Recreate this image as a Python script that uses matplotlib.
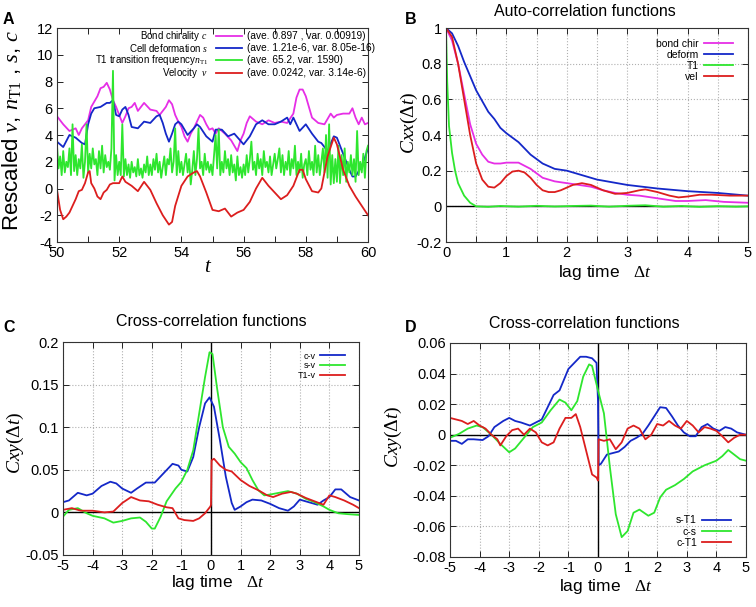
import numpy as np
import matplotlib
matplotlib.use("Agg")
import matplotlib.pyplot as plt
from matplotlib.ticker import MultipleLocator, FuncFormatter
from matplotlib.lines import Line2D

plt.rcParams['font.family'] = ['Liberation Sans', 'DejaVu Sans']
plt.rcParams['mathtext.fontset'] = 'custom'
plt.rcParams['mathtext.it'] = 'Liberation Serif:italic'
plt.rcParams['mathtext.rm'] = 'Liberation Serif'
plt.rcParams['mathtext.bf'] = 'Liberation Serif:bold'
plt.rcParams['axes.unicode_minus'] = False

# ---------------- Panel A data ----------------
tA_c = [50.0, 50.2, 50.4, 50.6, 50.7, 50.8, 51.0, 51.1, 51.2, 51.3, 51.4, 51.5, 51.6, 51.7, 51.8, 51.9,
        52.0, 52.1, 52.2, 52.3, 52.4, 52.5, 52.6, 52.7, 52.8, 53.0, 53.2, 53.3, 53.5, 53.6, 53.7, 53.8,
        53.9, 54.0, 54.1, 54.2, 54.3, 54.4, 54.5, 54.6, 54.7, 54.8, 54.9, 55.0, 55.1, 55.2, 55.4, 55.6,
        55.8, 55.9, 56.0, 56.1, 56.2, 56.4, 56.6, 56.8, 57.0, 57.2, 57.4, 57.6, 57.7, 57.8, 57.9, 58.0,
        58.1, 58.2, 58.4, 58.6, 58.8, 58.9, 59.0, 59.2, 59.4, 59.5, 59.6, 59.7, 59.8, 59.9, 60.0]
c_vals = [5.4, 4.8, 4.3, 4.5, 4.0, 4.5, 5.1, 6.1, 6.5, 6.9, 7.5, 7.6, 7.9, 7.4, 6.6, 6.1,
          5.5, 4.9, 5.4, 6.0, 6.1, 6.4, 5.8, 6.1, 6.4, 5.9, 5.8, 5.5, 6.1, 6.6, 6.3, 5.5,
          5.0, 4.6, 3.9, 3.5, 4.1, 4.5, 5.0, 5.5, 5.3, 4.8, 4.4, 4.5, 4.1, 4.5, 4.1, 3.6,
          2.8, 3.6, 4.1, 4.9, 5.4, 5.0, 4.8, 5.1, 4.9, 5.0, 4.9, 5.6, 6.8, 7.4, 7.4, 6.9,
          6.1, 5.3, 4.9, 4.8, 5.6, 5.3, 5.5, 5.6, 5.6, 6.0, 5.3, 4.8, 5.3, 4.8, 4.9]

tA_s = [50.0, 50.2, 50.4, 50.6, 50.8, 50.9, 51.0, 51.1, 51.2, 51.4, 51.6, 51.7, 51.8, 51.9, 52.0, 52.1,
        52.2, 52.3, 52.4, 52.6, 52.8, 53.0, 53.2, 53.3, 53.4, 53.5, 53.6, 53.7, 53.8, 53.9, 54.0, 54.2,
        54.4, 54.5, 54.6, 54.8, 55.0, 55.1, 55.3, 55.5, 55.7, 56.0, 56.2, 56.4, 56.6, 56.8, 57.0, 57.2,
        57.4, 57.5, 57.6, 57.7, 57.8, 58.0, 58.2, 58.4, 58.5, 58.7, 58.9, 59.0, 59.2, 59.4, 59.5, 59.6,
        59.8, 59.9, 60.0]
s_vals = [3.5, 3.1, 4.0, 3.8, 3.4, 3.3, 4.8, 5.6, 6.0, 6.1, 6.4, 6.4, 6.6, 5.5, 5.4, 5.9,
          6.1, 5.5, 4.6, 4.5, 5.0, 4.9, 5.4, 5.5, 4.9, 4.1, 3.5, 4.1, 4.8, 5.0, 4.8, 4.0,
          4.5, 4.8, 4.6, 3.9, 3.5, 4.4, 4.4, 3.9, 4.1, 3.3, 3.9, 4.8, 5.1, 4.8, 4.8, 5.0,
          5.3, 4.8, 5.3, 4.8, 4.3, 4.8, 4.1, 3.5, 3.4, 2.8, 3.9, 3.8, 2.6, 1.4, 0.9, 0.9,
          1.7, 2.3, 3.0]

tA_v = [50.0, 50.1, 50.2, 50.3, 50.4, 50.5, 50.6, 50.7, 50.8, 50.9, 51.0, 51.05, 51.1, 51.2, 51.3, 51.4,
        51.5, 51.6, 51.7, 51.8, 52.0, 52.1, 52.2, 52.4, 52.6, 52.8, 53.0, 53.2, 53.4, 53.6, 53.7, 53.8,
        54.0, 54.2, 54.4, 54.5, 54.6, 54.8, 55.0, 55.2, 55.4, 55.6, 55.8, 56.0, 56.2, 56.4, 56.6, 56.8,
        57.0, 57.2, 57.4, 57.6, 57.8, 57.9, 58.0, 58.2, 58.4, 58.5, 58.7, 58.9, 59.0, 59.2, 59.4, 59.6,
        59.8, 60.0]
v_vals = [-0.1, -1.6, -2.3, -2.1, -1.8, -1.3, -0.8, -0.2, -0.1, 0.4, 1.2, 1.3, 0.4, 0.0, -0.6, -0.8,
          -0.3, -0.1, 0.3, 0.4, 0.4, 0.9, 0.5, 0.2, -0.2, 0.5, -0.1, -1.1, -2.0, -2.7, -2.5, -1.3,
          0.2, 0.9, 1.2, 1.3, 0.9, -0.3, -1.6, -1.7, -1.5, -2.1, -1.8, -1.6, -1.0, 0.0, 0.8, 0.2,
          -0.3, -0.8, -0.5, 0.2, 1.4, 1.4, 0.7, -0.2, -0.3, 0.0, 2.4, 3.8, 3.3, 1.4, 0.2, -0.6,
          -1.3, -2.0]

n_vals = [3.2, 1.5, 2.4, 1.0, 2.8, 1.2, 2.0, 1.6, 3.0, 1.0, 4.8, 1.3, 2.5, 1.0, 2.2, 1.5, 3.3, 0.8, 2.0, 4.8,
          1.2, 2.6, 1.5, 3.0, 1.8, 2.2, 1.0, 2.8, 1.5, 3.2, 1.2, 2.5, 1.6, 2.0, 1.4, 3.0, 8.8, 0.6, 2.5, 1.0,
          2.0, 1.0, 4.8, 0.9, 2.2, 1.0, 1.8, 0.8, 2.0, 1.2, 1.6, 0.9, 2.2, 1.0, 1.5, 0.8, 1.8, 1.2, 2.4, 1.0,
          1.8, 1.0, 2.2, 1.4, 2.6, 1.2, 2.0, 0.8, 1.6, 2.4, 1.0, 2.2, 1.8, 3.0, 1.2, 2.0, 4.5, 1.0, 2.8, 1.2,
          2.0, 1.0, 1.8, 2.6, 1.2, 2.2, 0.3, 1.4, 2.8, 1.0, 2.2, 4.5, 1.5, 2.0, 1.0, 2.6, 1.4, 2.0, 1.2, 1.8,
          1.0, 2.5, 4.0, 1.5, 4.4, 1.0, 2.0, 1.2, 2.8, 1.5, 2.2, 1.0, 2.5, 1.2, 1.8, 0.6, 2.4, 1.0, 1.6, 0.8,
          1.8, 1.0, 2.5, 1.2, 2.2, 3.5, 1.4, 2.0, 1.0, 2.6, 1.5, 2.2, 1.0, 2.8, 1.6, 2.0, 1.2, 2.4, 1.0, 1.8,
          2.6, 1.5, 2.2, 3.0, 1.2, 2.5, 1.0, 2.0, 1.4, 2.8, 1.0, 2.2, 1.5, 3.2, 1.0, 2.0, 1.2, 2.6, 0.8, 1.8,
          2.2, 1.0, 2.8, 1.4, 2.0, 1.0, 3.2, 1.2, 2.5, 1.0, 2.0, 3.0, 1.2, 4.0, 0.8, 4.8, 0.3, 2.5, 0.4, 2.2,
          0.5, 3.2, 0.4, 2.5, 1.0, 3.0, 0.5, 2.0, 1.2, 2.5, 1.0, 2.2, 0.5, 4.3, 1.0, 2.0, 1.2, 2.6, 0.8, 2.8,
          3.2]
tA_n = np.linspace(50, 60, len(n_vals))

labelsA = ['Bond chirality $c$', 'Cell deformation $s$',
           r'T1 transition frequency$n_{\mathrm{T1}}$', r'Velocity  $v$']
statsA = ['(ave. 0.897 , var. 0.00919)', '(ave. 1.21e-6, var. 8.05e-16)',
          '(ave. 65.2, var. 1590)', '(ave. 0.0242, var. 3.14e-6)']

# ---------------- Panel B data ----------------
lagB_bond = [0, 0.1, 0.2, 0.3, 0.4, 0.5, 0.6, 0.7, 0.8, 0.9, 1.0, 1.2, 1.4, 1.6, 1.8, 2.0, 2.2, 2.4,
             2.6, 2.8, 3.0, 3.2, 3.4, 3.6, 3.8, 4.0, 4.3, 4.6, 5.0]
bond_acf = [1.0, 0.93, 0.80, 0.63, 0.46, 0.35, 0.29, 0.25, 0.24, 0.24, 0.245, 0.245, 0.21, 0.16, 0.14,
            0.13, 0.12, 0.11, 0.09, 0.075, 0.065, 0.06, 0.05, 0.04, 0.03, 0.03, 0.035, 0.025, 0.02]
lagB_def = [0, 0.1, 0.2, 0.3, 0.4, 0.5, 0.6, 0.7, 0.8, 0.9, 1.0, 1.2, 1.4, 1.6, 1.8, 2.0, 2.2, 2.5,
            3.0, 3.5, 4.0, 4.5, 5.0]
def_acf = [1.0, 0.97, 0.90, 0.81, 0.73, 0.65, 0.59, 0.53, 0.49, 0.44, 0.41, 0.36, 0.29, 0.24, 0.21,
           0.20, 0.18, 0.15, 0.12, 0.10, 0.085, 0.075, 0.06]
lagB_t1 = [0, 0.02, 0.05, 0.1, 0.15, 0.2, 0.3, 0.4, 0.5, 0.7, 0.9, 1.2, 1.5, 1.8, 2.1, 2.4, 2.7, 3.0,
           3.3, 3.6, 3.9, 4.2, 4.5, 4.8, 5.0]
t1_acf = [1.0, 0.7, 0.45, 0.3, 0.2, 0.13, 0.06, 0.02, 0.0, -0.003, 0.002, -0.002, 0.003, -0.001, 0.002,
          0.004, -0.002, 0.003, 0.006, -0.002, 0.002, -0.003, 0.001, -0.002, 0.0]
lagB_vel = [0, 0.1, 0.2, 0.3, 0.4, 0.5, 0.6, 0.7, 0.8, 0.9, 1.0, 1.1, 1.2, 1.3, 1.4, 1.5, 1.6, 1.7,
            1.8, 1.9, 2.0, 2.1, 2.25, 2.4, 2.6, 2.8, 3.0, 3.2, 3.3, 3.5, 3.7, 3.85, 4.0, 4.2, 4.4, 4.7, 5.0]
vel_acf = [1.0, 0.95, 0.80, 0.60, 0.40, 0.24, 0.15, 0.11, 0.105, 0.13, 0.17, 0.195, 0.20, 0.19, 0.16,
           0.12, 0.09, 0.08, 0.08, 0.09, 0.105, 0.12, 0.13, 0.12, 0.09, 0.07, 0.075, 0.09, 0.095, 0.08,
           0.06, 0.05, 0.055, 0.065, 0.065, 0.06, 0.06]

# ---------------- Panel C data ----------------
lagC_cv = [-5, -4.8, -4.5, -4.2, -4.0, -3.7, -3.4, -3.2, -3.0, -2.7, -2.5, -2.2, -1.9, -1.6, -1.3, -1.1,
           -1.0, -0.8, -0.6, -0.4, -0.2, -0.05, 0.1, 0.3, 0.5, 0.7, 0.8, 1.0, 1.2, 1.4, 1.7, 2.0, 2.3,
           2.6, 2.8, 3.0, 3.3, 3.6, 3.8, 4.0, 4.2, 4.4, 4.7, 5.0]
cv = [0.012, 0.014, 0.023, 0.020, 0.022, 0.031, 0.036, 0.034, 0.028, 0.023, 0.028, 0.035, 0.035, 0.046,
      0.057, 0.055, 0.050, 0.048, 0.065, 0.100, 0.128, 0.135, 0.124, 0.085, 0.042, 0.011, 0.003, 0.007,
      0.012, 0.015, 0.014, 0.010, 0.005, 0.002, 0.007, 0.015, 0.012, 0.009, 0.014, 0.018, 0.027, 0.027,
      0.018, 0.014]
lagC_sv = [-5, -4.8, -4.5, -4.2, -4.0, -3.6, -3.3, -3.0, -2.7, -2.4, -2.2, -2.0, -1.9, -1.7, -1.5, -1.2,
           -1.0, -0.8, -0.6, -0.4, -0.2, -0.05, 0.05, 0.2, 0.4, 0.6, 0.8, 1.0, 1.2, 1.4, 1.6, 1.8, 2.0,
           2.3, 2.6, 2.9, 3.2, 3.5, 3.8, 4.0, 4.3, 4.6, 5.0]
sv = [-0.005, 0.003, 0.005, -0.001, -0.004, -0.007, -0.012, -0.010, -0.007, -0.006, -0.011, -0.019,
      -0.019, -0.005, 0.013, 0.028, 0.036, 0.050, 0.073, 0.116, 0.159, 0.188, 0.186, 0.147, 0.100, 0.077,
      0.069, 0.059, 0.052, 0.038, 0.026, 0.020, 0.021, 0.023, 0.025, 0.022, 0.016, 0.012, 0.007, 0.003,
      -0.001, -0.002, -0.003]
lagC_tv = [-5, -4.7, -4.4, -4.0, -3.6, -3.3, -3.0, -2.7, -2.4, -2.1, -1.8, -1.5, -1.3, -1.1, -0.9, -0.6,
           -0.4, -0.2, -0.02, 0.0, 0.02, 0.1, 0.3, 0.5, 0.7, 1.0, 1.3, 1.6, 1.9, 2.1, 2.4, 2.7, 2.9, 3.2,
           3.5, 3.8, 4.0, 4.2, 4.5, 4.8, 5.0]
tv = [0.003, 0.005, 0.002, 0.002, 0.000, 0.001, 0.011, 0.018, 0.014, 0.013, 0.009, 0.006, 0.005, -0.007,
      -0.009, -0.010, -0.007, -0.001, 0.007, 0.009, 0.061, 0.063, 0.055, 0.050, 0.048, 0.038, 0.031,
      0.026, 0.020, 0.018, 0.022, 0.024, 0.022, 0.017, 0.013, 0.009, 0.020, 0.018, 0.014, 0.009, 0.005]

# ---------------- Panel D data ----------------
lagD_st = [-5, -4.8, -4.6, -4.4, -4.2, -3.9, -3.7, -3.5, -3.2, -3.0, -2.8, -2.6, -2.3, -2.1, -1.9, -1.7,
           -1.5, -1.3, -1.0, -0.8, -0.6, -0.4, -0.2, -0.05, 0.0, 0.02, 0.1, 0.3, 0.5, 0.7, 0.9, 1.1, 1.3,
           1.5, 1.7, 1.9, 2.1, 2.3, 2.5, 2.7, 2.9, 3.1, 3.3, 3.5, 3.7, 3.9, 4.1, 4.3, 4.5, 4.7, 5.0]
st = [-0.004, -0.004, -0.006, -0.003, -0.003, -0.0035, -0.001, 0.005, 0.009, 0.011, 0.009, 0.008, 0.006,
      0.008, 0.010, 0.018, 0.026, 0.029, 0.043, 0.047, 0.051, 0.051, 0.050, 0.047, 0.022, -0.020, -0.019,
      -0.013, -0.012, -0.011, -0.008, -0.004, -0.002, 0.0005, 0.006, 0.012, 0.018, 0.0175, 0.012, 0.006,
      0.0015, -0.001, -0.001, 0.005, 0.007, 0.004, 0.0025, 0.005, 0.004, 0.0015, 0.0]
lagD_cs = [-5, -4.7, -4.4, -4.1, -3.9, -3.6, -3.3, -3.0, -2.8, -2.5, -2.2, -1.9, -1.6, -1.3, -1.1, -0.9,
           -0.7, -0.5, -0.3, -0.2, 0.0, 0.2, 0.4, 0.6, 0.8, 1.0, 1.2, 1.4, 1.7, 1.9, 2.1, 2.3, 2.6, 2.9,
           3.2, 3.6, 4.0, 4.2, 4.4, 4.6, 4.8, 5.0]
cs = [-0.002, 0.0005, 0.004, 0.006, 0.005, 0.0, -0.006, -0.0115, -0.009, -0.002, 0.005, 0.008, 0.016,
      0.023, 0.021, 0.016, 0.022, 0.038, 0.046, 0.045, 0.029, 0.014, -0.021, -0.052, -0.067, -0.063,
      -0.051, -0.049, -0.053, -0.051, -0.041, -0.036, -0.033, -0.029, -0.024, -0.020, -0.017, -0.014,
      -0.010, -0.013, -0.016, -0.017]
lagD_ct = [-5, -4.8, -4.6, -4.4, -4.2, -4.0, -3.8, -3.6, -3.4, -3.3, -3.1, -2.9, -2.7, -2.5, -2.3, -2.1,
           -1.9, -1.7, -1.5, -1.3, -1.1, -0.9, -0.75, -0.6, -0.4, -0.2, -0.05, 0.0, 0.02, 0.2, 0.4, 0.6,
           0.8, 1.0, 1.2, 1.4, 1.6, 1.8, 2.0, 2.2, 2.4, 2.6, 2.8, 3.0, 3.2, 3.4, 3.6, 3.8, 4.0, 4.2, 4.4,
           4.6, 4.8, 5.0]
ct = [0.011, 0.010, 0.009, 0.007, 0.009, 0.006, 0.004, 0.0, -0.003, -0.007, -0.001, 0.003, 0.004, 0.0,
      0.004, 0.0015, -0.005, -0.007, -0.005, 0.004, 0.011, 0.011, 0.0135, 0.005, -0.0105, -0.026, -0.028,
      -0.030, -0.003, -0.004, -0.003, -0.0095, -0.005, 0.004, 0.006, 0.004, -0.003, 0.0, 0.007, 0.006,
      0.009, 0.006, 0.004, 0.009, 0.006, 0.0015, 0.005, 0.004, 0.0025, -0.001, -0.005, -0.002, 0.0, 0.0]

MAG = '#e62ee6'
BLU = '#1428c8'
GRN = '#2ee62e'
RED = '#dc1e1e'
LW = 1.3

fig = plt.figure(figsize=(7.56, 6.07), dpi=100)
W, H = 756.0, 607.0

def axes_px(l, t, r, b):
    return fig.add_axes([l / W, 1 - b / H, (r - l) / W, (b - t) / H])

axA = axes_px(57, 28, 368, 242)
axB = axes_px(446, 28, 748, 242)
axC = axes_px(63, 342, 359, 555)
axD = axes_px(450, 343, 746, 557)

fmt = FuncFormatter(lambda v, p: ('%g' % round(v, 6)))

def style(ax, grid=True):
    ax.tick_params(direction='in', top=True, right=True, which='both', length=4,
                   labelsize=10.5, width=0.7, colors='#222222', labelcolor='black', pad=3)
    for sp in ax.spines.values():
        sp.set_linewidth(0.8)
        sp.set_color('#333333')
    if grid:
        ax.grid(True, which='both', linestyle=':', color='#b0b0b0', linewidth=0.8)
        ax.set_axisbelow(True)
    ax.xaxis.set_major_formatter(fmt)
    ax.yaxis.set_major_formatter(fmt)

# ---- Panel A ----
lA = axA.plot(tA_c, c_vals, color=MAG, lw=LW)[0]
lB = axA.plot(tA_s, s_vals, color=BLU, lw=LW)[0]
lC = axA.plot(tA_n, n_vals, color=GRN, lw=LW)[0]
lD = axA.plot(tA_v, v_vals, color=RED, lw=LW)[0]
axA.set_xlim(50, 60)
axA.set_ylim(-4, 12)
axA.xaxis.set_major_locator(MultipleLocator(2))
axA.xaxis.set_minor_locator(MultipleLocator(1))
axA.yaxis.set_major_locator(MultipleLocator(2))
style(axA, grid=False)
rows = [0.962, 0.906, 0.850, 0.790]
for ln, lab, st_txt, yy in zip([lA, lB, lC, lD], labelsA, statsA, rows):
    axA.text(0.485, yy, lab, transform=axA.transAxes, ha='right', va='center', fontsize=7)
    axA.add_line(Line2D([0.51, 0.595], [yy, yy], transform=axA.transAxes,
                        color=ln.get_color(), lw=LW))
    axA.text(0.61, yy, st_txt, transform=axA.transAxes, ha='left', va='center', fontsize=7.3)
fig.text(12 / W, 1 - 130 / H, r'Rescaled $v$, $n_{\mathrm{T1}}$ , $s$, $c$', rotation=90,
         ha='center', va='center', fontsize=16)
fig.text(208 / W, 1 - 267 / H, r'$t$', ha='center', va='center', fontsize=15)

# ---- Panel B ----
axB.axhline(0, color='black', lw=1.0, zorder=1.5)
axB.plot(lagB_bond, bond_acf, color=MAG, lw=LW, label='bond chir')
axB.plot(lagB_def, def_acf, color=BLU, lw=LW, label='deform')
axB.plot(lagB_t1, t1_acf, color=GRN, lw=LW, label='T1')
axB.plot(lagB_vel, vel_acf, color=RED, lw=LW, label='vel')
axB.set_xlim(0, 5)
axB.set_ylim(-0.2, 1.0)
axB.xaxis.set_major_locator(MultipleLocator(1))
axB.xaxis.set_minor_locator(MultipleLocator(0.5))
axB.yaxis.set_major_locator(MultipleLocator(0.2))
style(axB)
axB.tick_params(axis='y', which='minor', left=False, right=False)
axB.legend(loc='upper right', bbox_to_anchor=(0.975, 0.985), frameon=False, fontsize=7.5,
           markerfirst=False, handlelength=2.8, labelspacing=0.1, borderpad=0.2, handletextpad=0.5)
fig.text(585 / W, 1 - 11 / H, 'Auto-correlation functions', ha='center', va='center', fontsize=11.5)
fig.text(605 / W, 1 - 272 / H, r'lag time   $\mathit{\Delta t}$', ha='center', va='center', fontsize=12.5)
fig.text(409 / W, 1 - 123 / H, r'$\mathit{Cxx}(\mathit{\Delta t})$', rotation=90,
         ha='center', va='center', fontsize=14)

# ---- Panel C ----
axC.axhline(0, color='black', lw=1.0, zorder=1.5)
axC.axvline(0, color='black', lw=1.0, zorder=1.5)
axC.plot(lagC_cv, cv, color=BLU, lw=LW, label='c-v')
axC.plot(lagC_sv, sv, color=GRN, lw=LW, label='s-v')
axC.plot(lagC_tv, tv, color=RED, lw=LW, label='T1-v')
axC.set_xlim(-5, 5)
axC.set_ylim(-0.05, 0.2)
axC.xaxis.set_major_locator(MultipleLocator(1))
axC.yaxis.set_major_locator(MultipleLocator(0.05))
style(axC)
axC.legend(loc='upper right', bbox_to_anchor=(0.975, 0.985), frameon=False, fontsize=6.5,
           markerfirst=False, handlelength=2.8, labelspacing=0.1, borderpad=0.2, handletextpad=0.5)
fig.text(211 / W, 1 - 322 / H, 'Cross-correlation functions', ha='center', va='center', fontsize=11.5)
fig.text(218 / W, 1 - 582 / H, r'lag time   $\mathit{\Delta t}$', ha='center', va='center', fontsize=12.5)
fig.text(15 / W, 1 - 443 / H, r'$\mathit{Cxy}(\mathit{\Delta t})$', rotation=90,
         ha='center', va='center', fontsize=14)

# ---- Panel D ----
axD.axhline(0, color='black', lw=1.0, zorder=1.5)
axD.axvline(0, color='black', lw=1.0, zorder=1.5)
axD.plot(lagD_st, st, color=BLU, lw=LW, label='s-T1')
axD.plot(lagD_cs, cs, color=GRN, lw=LW, label='c-s')
axD.plot(lagD_ct, ct, color=RED, lw=LW, label='c-T1')
axD.set_xlim(-5, 5)
axD.set_ylim(-0.08, 0.06)
axD.xaxis.set_major_locator(MultipleLocator(1))
axD.yaxis.set_major_locator(MultipleLocator(0.02))
style(axD)
axD.legend(loc='lower right', bbox_to_anchor=(0.975, 0.01), frameon=False, fontsize=7.5,
           markerfirst=False, handlelength=2.8, labelspacing=0.1, borderpad=0.2, handletextpad=0.5)
fig.text(584 / W, 1 - 323 / H, 'Cross-correlation functions', ha='center', va='center', fontsize=11.5)
fig.text(606 / W, 1 - 587 / H, r'lag time   $\mathit{\Delta t}$', ha='center', va='center', fontsize=12.5)
fig.text(393 / W, 1 - 437 / H, r'$\mathit{Cxy}(\mathit{\Delta t})$', rotation=90,
         ha='center', va='center', fontsize=14)

# panel letters
for lx, ly, letter in [(3, 20, 'A'), (405, 19, 'B'), (3, 328, 'C'), (405, 328, 'D')]:
    fig.text(lx / W, 1 - ly / H, letter, ha='left', va='center', fontsize=11.5, fontweight='bold')

fig.savefig('out.png', dpi=100)
